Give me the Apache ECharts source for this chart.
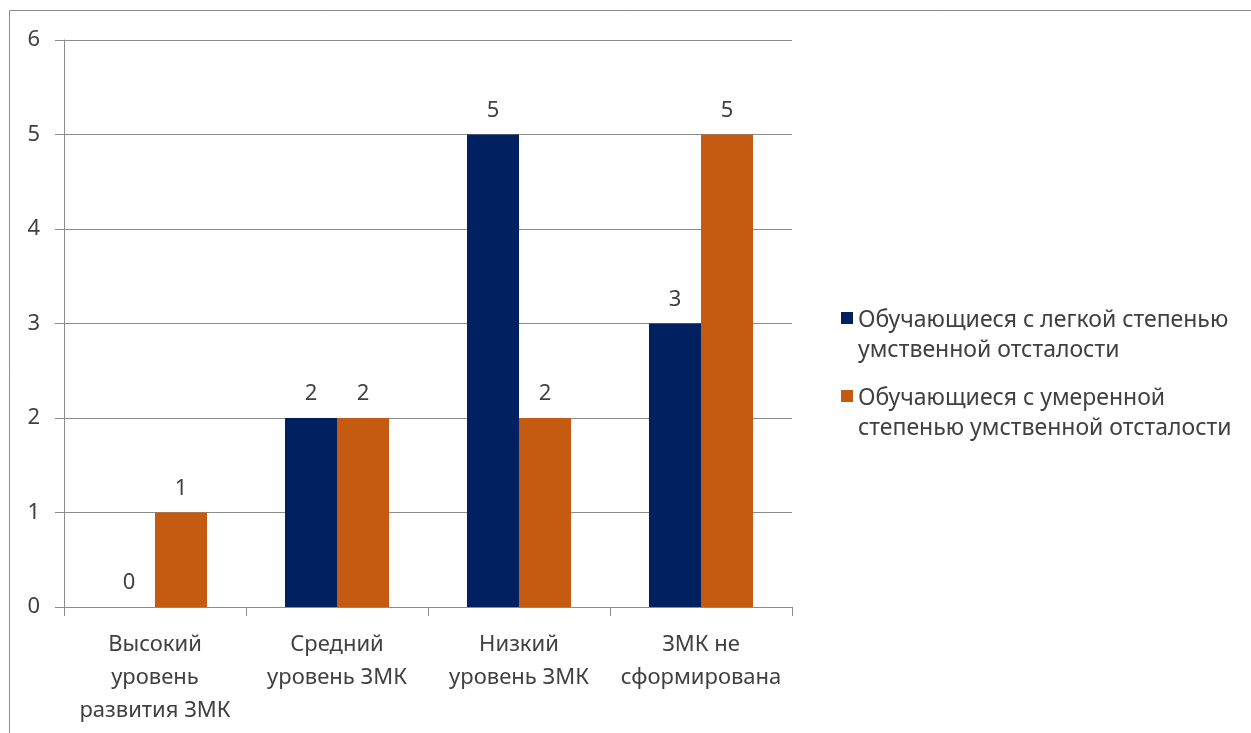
<!DOCTYPE html>
<html>
<head>
<meta charset="utf-8">
<script src="https://cdn.jsdelivr.net/npm/echarts@6/dist/echarts.min.js"></script>
<style>
  html, body { margin: 0; padding: 0; background: #fff; }
  #chart { width: 1251px; height: 733px; }
</style>
</head>
<body>
<div id="chart"></div>
<script>
// Уровни сформированности ЗМК
const categories = [
  'Высокий\nуровень\nразвития ЗМК',
  'Средний\nуровень ЗМК',
  'Низкий\nуровень ЗМК',
  'ЗМК не\nсформирована'
];
const seriesNames = [
  'Обучающиеся с легкой степенью умственной отсталости',
  'Обучающиеся с умеренной степенью умственной отсталости'
];
const legendLabels = [
  'Обучающиеся с легкой степенью\nумственной отсталости',
  'Обучающиеся с умеренной\nстепенью умственной отсталости'
];
const mildValues = [0, 2, 5, 3];
const moderateValues = [1, 2, 2, 5];
const yTicks = [0, 1, 2, 3, 4, 5, 6];

const FONT = 'Noto Sans';
const TEXT = '#404040';
const GRID = '#8c8c8c';
const SIZE = 22;

// Legend marker: a 12px square aligned with the first text line
// (the tiny dot at the bottom only stretches the icon box).
const LEGEND_ICON = 'path://M0,0h12v12h-12zM0,46h0.01v0.01h-0.01z';

const chart = echarts.init(document.getElementById('chart'), null, { renderer: 'canvas' });

const labelStyle = {
  show: true,
  position: 'top',
  distance: 13,
  fontFamily: FONT,
  fontSize: SIZE,
  color: TEXT
};

chart.setOption({
  animation: false,
  backgroundColor: '#fff',
  textStyle: { fontFamily: FONT },
  graphic: [{
    type: 'rect',
    shape: { x: 9.5, y: 10.5, width: 1300, height: 800 },
    style: { fill: 'none', stroke: '#8c8c8c', lineWidth: 1 },
    silent: true
  }],
  grid: { left: 64, right: 459, top: 40, bottom: 126 },
  legend: {
    orient: 'vertical',
    left: 836,
    top: 300,
    itemWidth: 12,
    itemHeight: 46,
    itemGap: 18,
    icon: LEGEND_ICON,
    data: seriesNames,
    formatter: name => legendLabels[seriesNames.indexOf(name)],
    textStyle: {
      fontFamily: FONT,
      fontSize: 23,
      color: TEXT,
      lineHeight: 30
    }
  },
  xAxis: {
    type: 'category',
    data: categories,
    axisLine: { show: true, lineStyle: { color: GRID, width: 1 } },
    axisTick: { show: true, alignWithLabel: false, length: 9, lineStyle: { color: GRID } },
    axisLabel: {
      interval: 0,
      margin: 21,
      fontFamily: FONT,
      fontSize: SIZE,
      lineHeight: 33,
      color: TEXT
    }
  },
  yAxis: {
    type: 'value',
    min: yTicks[0],
    max: yTicks[yTicks.length - 1],
    interval: 1,
    axisLine: { show: true, lineStyle: { color: GRID, width: 1 } },
    axisTick: { show: true, length: 9, lineStyle: { color: GRID } },
    splitLine: { show: true, lineStyle: { color: GRID, width: 1 } },
    axisLabel: {
      margin: 24,
      fontFamily: FONT,
      fontSize: SIZE,
      color: TEXT
    }
  },
  series: [
    {
      name: seriesNames[0],
      type: 'bar',
      data: mildValues,
      barWidth: 52,
      barGap: '0%',
      itemStyle: { color: '#002060' },
      label: labelStyle
    },
    {
      name: seriesNames[1],
      type: 'bar',
      data: moderateValues,
      barWidth: 52,
      barGap: '0%',
      itemStyle: { color: '#C55A11' },
      label: labelStyle
    }
  ]
});
</script>
</body>
</html>
